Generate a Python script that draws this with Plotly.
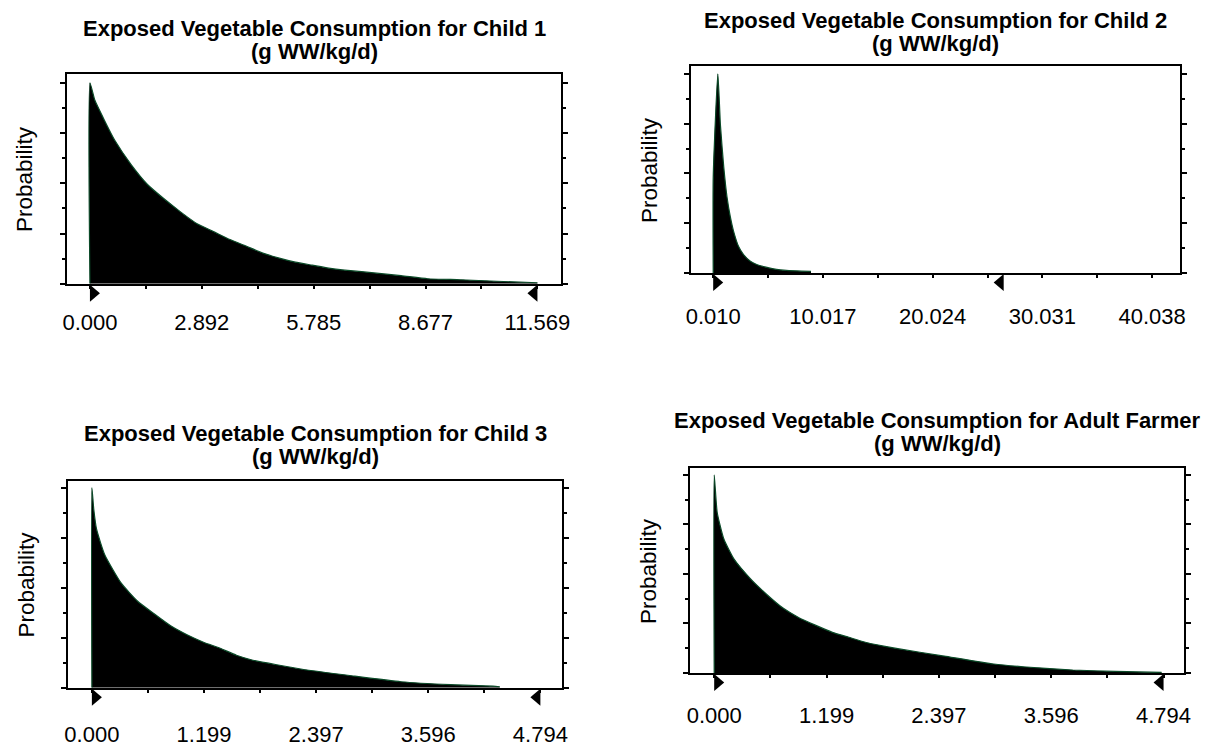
import plotly.graph_objects as go

W, H = 1222, 747
FONT = "Arial, 'Liberation Sans', sans-serif"

# ---- Child 1 ----
c1_x = [0.000, 0.000, 0.128, 0.383, 0.638, 1.065, 1.481, 1.915, 2.342, 2.758, 3.192,
        3.618, 4.035, 4.469, 4.895, 5.312, 5.746, 6.172, 6.588, 7.022, 8.044, 8.733,
        9.576, 10.52, 11.569]
c1_p = [0.0, 0.0400, 0.0365, 0.0324, 0.0286, 0.0237, 0.0198, 0.0169, 0.0143, 0.0120, 0.0104,
        0.0088, 0.0075, 0.0061, 0.0051, 0.0043, 0.0037, 0.0031, 0.0027, 0.0024, 0.0016, 0.0010,
        0.0008, 0.0005, 0.0002]
c1_ticks = [0.000, 2.892, 5.785, 8.677, 11.569]
c1_certainty = [0.000, 11.569]

# ---- Child 2 ----
c2_x = [0.010, 0.010, 0.433, 0.668, 0.974, 1.271, 1.569, 1.875, 2.325, 2.776, 3.370,
        3.974, 4.722, 5.776, 6.677, 8.929]
c2_p = [0.0, 0.0192, 0.0400, 0.0297, 0.0212, 0.0152, 0.0113, 0.0083, 0.0053, 0.0037, 0.0024,
        0.0017, 0.0012, 0.0007, 0.0005, 0.0003]
c2_ticks = [0.010, 10.017, 20.024, 30.031, 40.038]
c2_certainty = [0.010, 26.50]

# ---- Child 3 ----
c3_x = [0.000, 0.000, 0.020, 0.050, 0.137, 0.314, 0.489, 0.665, 0.842, 1.017, 1.193,
        1.370, 1.545, 1.721, 2.249, 2.777, 3.305, 3.833, 4.287, 4.360]
c3_p = [0.0, 0.0400, 0.0357, 0.0317, 0.0266, 0.0209, 0.0173, 0.0148, 0.0124, 0.0106, 0.0091,
        0.0079, 0.0065, 0.0055, 0.0037, 0.0024, 0.0012, 0.0006, 0.0003, 0.0002]
c3_ticks = [0.000, 1.199, 2.397, 3.596, 4.794]
c3_certainty = [0.000, 4.794]

# ---- Adult Farmer ----
af_x = [0.000, 0.000, 0.032, 0.102, 0.208, 0.383, 0.558, 0.734, 0.909, 1.085, 1.261,
        1.436, 1.612, 1.928, 2.455, 2.982, 3.330, 3.825, 4.278, 4.773]
af_p = [0.0, 0.0400, 0.0324, 0.0271, 0.0231, 0.0191, 0.0159, 0.0131, 0.0111, 0.0096, 0.0082,
        0.0072, 0.0062, 0.0050, 0.0034, 0.0018, 0.0012, 0.0006, 0.0003, 0.0001]
af_ticks = [0.000, 1.199, 2.397, 3.596, 4.794]
af_certainty = [0.000, 4.794]

# panel layout: data, ticks, x range, y top, frame box in pixels (l, t, r, b)
panels = [
    dict(name="Child 1", x=c1_x, p=c1_p, ticks=c1_ticks, cert=c1_certainty,
         xr=[-0.587, 12.181], ytop=0.04176, box=(62, 75, 562, 288),
         title_y=(29, 52), lab_pad=15),
    dict(name="Child 2", x=c2_x, p=c2_p, ticks=c2_ticks, cert=c2_certainty,
         xr=[-1.972, 42.62], ytop=0.04158, box=(694, 67, 1189, 277),
         title_y=(21, 44), lab_pad=20),
    dict(name="Child 3", x=c3_x, p=c3_p, ticks=c3_ticks, cert=c3_certainty,
         xr=[-0.253, 5.026], ytop=0.04138, box=(63, 488, 563, 698),
         title_y=(440, 463), lab_pad=23),
    dict(name="Adult Farmer", x=af_x, p=af_p, ticks=af_ticks, cert=af_certainty,
         xr=[-0.253, 5.016], ytop=0.04139, box=(693, 475, 1193, 683),
         title_y=(427, 450), lab_pad=19),
]

fig = go.Figure()
annotations = []
shapes = []

for i, pn in enumerate(panels, start=1):
    sfx = "" if i == 1 else str(i)
    xa, ya = "x" + sfx, "y" + sfx
    l, t, r, b = pn["box"]

    fig.add_trace(go.Scatter(
        x=pn["x"], y=pn["p"], mode="lines", fill="tozeroy",
        fillcolor="black",
        line=dict(color="#0b4a28", width=1.2, shape="spline", smoothing=0.5),
        xaxis=xa, yaxis=ya, hoverinfo="skip", showlegend=False,
    ))

    ticks = pn["ticks"]
    minor = [(a + c) / 2 for a, c in zip(ticks[:-1], ticks[1:])]
    fig.update_layout(**{
        "xaxis" + sfx: dict(
            domain=[l / W, r / W], anchor=ya, range=pn["xr"],
            tickmode="array", tickvals=ticks, ticktext=[f"{v:.3f}" for v in ticks],
            ticks="outside", ticklen=3, tickwidth=2, tickcolor="black",
            minor=dict(tickmode="array", tickvals=minor, ticks="outside",
                       ticklen=3, tickwidth=2, tickcolor="black"),
            showline=True, linecolor="black", linewidth=2, mirror=True,
            showgrid=False, zeroline=False, ticklabelstandoff=pn["lab_pad"],
            tickfont=dict(family=FONT, size=22, color="black"), fixedrange=True,
        ),
        "yaxis" + sfx: dict(
            domain=[1 - b / H, 1 - t / H], anchor=xa, range=[0, pn["ytop"]],
            tickmode="linear", tick0=0, dtick=0.01, showticklabels=False,
            ticks="outside", ticklen=5, tickwidth=2, tickcolor="black",
            minor=dict(tickmode="linear", tick0=0, dtick=0.005, ticks="outside",
                       ticklen=3, tickwidth=2, tickcolor="black"),
            showline=True, linecolor="black", linewidth=2, mirror="allticks",
            showgrid=False, zeroline=False, fixedrange=True,
        ),
    })

    # two-line title centred over the frame
    cx = (l + r) / 2 / W
    annotations.append(dict(
        text=f"<b>Exposed Vegetable Consumption for {pn['name']}</b>",
        x=cx, y=1 - pn["title_y"][0] / H, xref="paper", yref="paper",
        xanchor="center", yanchor="middle", showarrow=False,
        font=dict(family=FONT, size=22, color="black")))
    annotations.append(dict(
        text="<b>(g WW/kg/d)</b>",
        x=cx, y=1 - pn["title_y"][1] / H, xref="paper", yref="paper",
        xanchor="center", yanchor="middle", showarrow=False,
        font=dict(family=FONT, size=22, color="black")))

    annotations.append(dict(
        text="Probability", textangle=-90,
        x=0, y=0.5, xref=xa + " domain", yref=ya + " domain",
        xanchor="center", yanchor="middle", xshift=-42, showarrow=False,
        font=dict(family=FONT, size=22.5, color="black")))

    # certainty grabbers below the axis
    x0, x1 = pn["xr"]
    lo, hi = pn["cert"]
    for val, path in ((lo, "M0,-1 L10,-9.5 L0,-18 Z"), (hi, "M0,-1 L-10,-9.5 L0,-18 Z")):
        shapes.append(dict(
            type="path", xref=xa + " domain", yref=ya + " domain",
            xsizemode="pixel", ysizemode="pixel",
            xanchor=(val - x0) / (x1 - x0), yanchor=0,
            path=path, fillcolor="black", line=dict(width=0), layer="above"))

fig.update_layout(
    width=W, height=H, margin=dict(l=0, r=0, t=0, b=0),
    paper_bgcolor="white", plot_bgcolor="white",
    annotations=annotations, shapes=shapes, showlegend=False,
)

fig.write_html("out.html")
